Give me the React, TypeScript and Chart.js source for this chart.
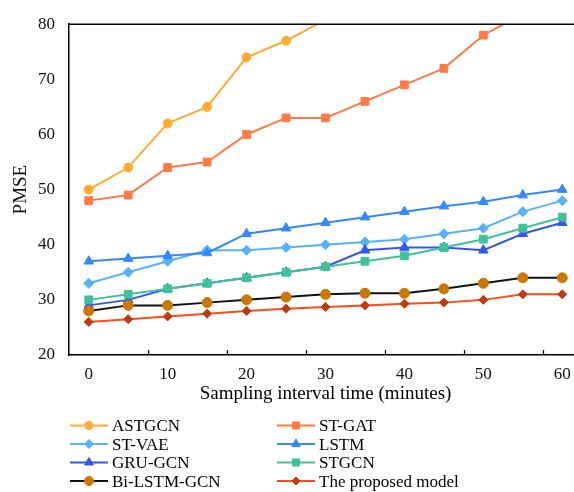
import React, { useEffect, useRef } from 'react';
import { Chart, registerables } from 'chart.js';
import { drawPoint } from 'chart.js/helpers';

Chart.register(...registerables);

const FONT = "'Liberation Serif', 'Times New Roman', serif";

const categories = ['0', '5', '10', '15', '20', '25', '30', '35', '40', '45', '50', '55', '60'];

const astgcn = [50, 54, 62, 65, 74, 77, 80.8, null, null, null, null, null, null];
const stGat = [48, 49, 54, 55, 60, 63, 63, 66, 69, 72, 78, 81.9, null];
const stVae = [33, 35, 37, 39, 39, 39.5, 40, 40.5, 41, 42, 43, 46, 48];
const lstm = [37, 37.5, 38, 38.5, 42, 43, 44, 45, 46, 47, 47.8, 49, 50];
const gruGcn = [29, 30, 32, 33, 34, 35, 36, 39, 39.5, 39.5, 39, 42, 44];
const stgcn = [30, 31, 32, 33, 34, 35, 36, 37, 38, 39.5, 41, 43, 45];
const biLstmGcn = [28, 29, 29, 29.5, 30, 30.5, 31, 31.2, 31.2, 32, 33, 34, 34];
const proposed = [26, 26.5, 27, 27.5, 28, 28.4, 28.7, 29, 29.3, 29.5, 30, 31, 31];

const seriesNames = ['ASTGCN', 'ST-GAT', 'ST-VAE', 'LSTM', 'GRU-GCN', 'STGCN', 'Bi-LSTM-GCN', 'The proposed model'];
const seriesData = [astgcn, stGat, stVae, lstm, gruGcn, stgcn, biLstmGcn, proposed];
const lineColors = ['#FFAA33', '#FF7A45', '#55B2FF', '#3387FF', '#3355F0', '#3FC29B', '#111111', '#FF4A1A'];
const markerColors = ['#FFAA33', '#FF7A45', '#55B2FF', '#3387FF', '#3355F0', '#3FC29B', '#CC7700', '#C23A0C'];
const markerStyles = ['circle', 'rect', 'rectRot', 'triangle', 'triangle', 'rect', 'circle', 'rectRot'];
const markerRadius = [4.5, 5.5, 5, 5.5, 5.5, 5.5, 5, 4.5];

const xTitle = 'Sampling interval time (minutes)';
const yTitle = 'PMSE';

const customPlugin = {
  id: 'customDecor',
  afterDraw(chart: any) {
    const ctx = chart.ctx;
    const area = chart.chartArea;
    const xs = chart.scales.x;
    ctx.save();
    // top frame line
    ctx.strokeStyle = '#000';
    ctx.lineWidth = 1.5;
    ctx.beginPath();
    ctx.moveTo(area.left, area.top);
    ctx.lineTo(area.right, area.top);
    ctx.stroke();
    // inward tick marks between categories
    ctx.lineWidth = 1.2;
    ctx.beginPath();
    for (let i = 2; i < categories.length; i += 2) {
      const px = Math.round((xs.getPixelForValue(i - 1) + xs.getPixelForValue(i)) / 2) + 0.5;
      ctx.moveTo(px, area.bottom);
      ctx.lineTo(px, area.bottom - 5);
    }
    ctx.stroke();
    // x axis title
    ctx.fillStyle = '#000';
    ctx.font = `19px ${FONT}`;
    ctx.textAlign = 'center';
    ctx.textBaseline = 'alphabetic';
    ctx.fillText(xTitle, (area.left + area.right) / 2, 399);
    // legend
    ctx.textAlign = 'left';
    chart.data.datasets.forEach((ds: any, i: number) => {
      const col = i % 2;
      const row = Math.floor(i / 2);
      const x0 = col === 0 ? 70 : 277;
      const x1 = x0 + 38;
      const y = 425.5 + row * 18.5;
      ctx.strokeStyle = ds.borderColor;
      ctx.lineWidth = 2;
      ctx.beginPath();
      ctx.moveTo(x0, y);
      ctx.lineTo(x1, y);
      ctx.stroke();
      ctx.fillStyle = ds.pointBackgroundColor;
      ctx.strokeStyle = ds.pointBorderColor;
      ctx.lineWidth = 1;
      drawPoint(ctx, { pointStyle: ds.pointStyle, radius: ds.pointRadius - 0.5, borderWidth: 1, rotation: 0 }, (x0 + x1) / 2, y);
      ctx.fillStyle = '#000';
      ctx.font = `17px ${FONT}`;
      ctx.fillText(ds.label, x1 + 4, y + 5.5);
    });
    ctx.restore();
  },
};

export default function App() {
  const canvasRef = useRef<HTMLCanvasElement | null>(null);

  useEffect(() => {
    if (!canvasRef.current) return;
    const datasets = seriesNames.map((name, i) => ({
      label: name,
      data: seriesData[i],
      borderColor: lineColors[i],
      backgroundColor: markerColors[i],
      pointBackgroundColor: markerColors[i],
      pointBorderColor: markerColors[i],
      pointStyle: markerStyles[i],
      pointRadius: markerRadius[i],
      pointBorderWidth: 1,
      borderWidth: 2,
      tension: 0,
      clip: 0,
      order: -i,
      spanGaps: false,
    }));
    const chart = new Chart(canvasRef.current, {
      type: 'line',
      data: { labels: categories, datasets },
      plugins: [customPlugin],
      options: {
        responsive: false,
        animation: false,
        devicePixelRatio: 1,
        layout: { padding: { top: 17, right: 18, left: 0, bottom: 0 } },
        plugins: {
          legend: { display: false },
          tooltip: { enabled: false },
        },
        scales: {
          x: {
            type: 'category',
            offset: true,
            afterFit: (scale: any) => {
              scale.height = 137;
            },
            grid: { display: true, drawOnChartArea: false, drawTicks: false },
            border: { display: true, color: '#000', width: 1.5 },
            ticks: {
              autoSkip: false,
              maxRotation: 0,
              padding: 9,
              color: '#111',
              font: { family: FONT, size: 17 },
              callback: (_v: any, index: number) => (index % 2 === 0 ? categories[index] : ''),
            },
          },
          y: {
            min: 20,
            max: 80,
            afterFit: (scale: any) => {
              scale.width = 69;
            },
            grid: { display: true, drawOnChartArea: false, drawTicks: false },
            border: { display: true, color: '#000', width: 1.5 },
            ticks: {
              stepSize: 10,
              padding: 14,
              color: '#111',
              font: { family: FONT, size: 17 },
            },
            title: {
              display: true,
              text: yTitle,
              color: '#111',
              font: { family: FONT, size: 19 },
              padding: { top: 10, bottom: 0 },
            },
          },
        },
      },
    });
    return () => chart.destroy();
  }, []);

  return (
    <div style={{ position: 'absolute', left: 0, top: 0, width: 574, height: 492, overflow: 'hidden', background: '#fff' }}>
      <canvas ref={canvasRef} width={600} height={492} style={{ display: 'block', width: 600, height: 492 }} />
    </div>
  );
}
